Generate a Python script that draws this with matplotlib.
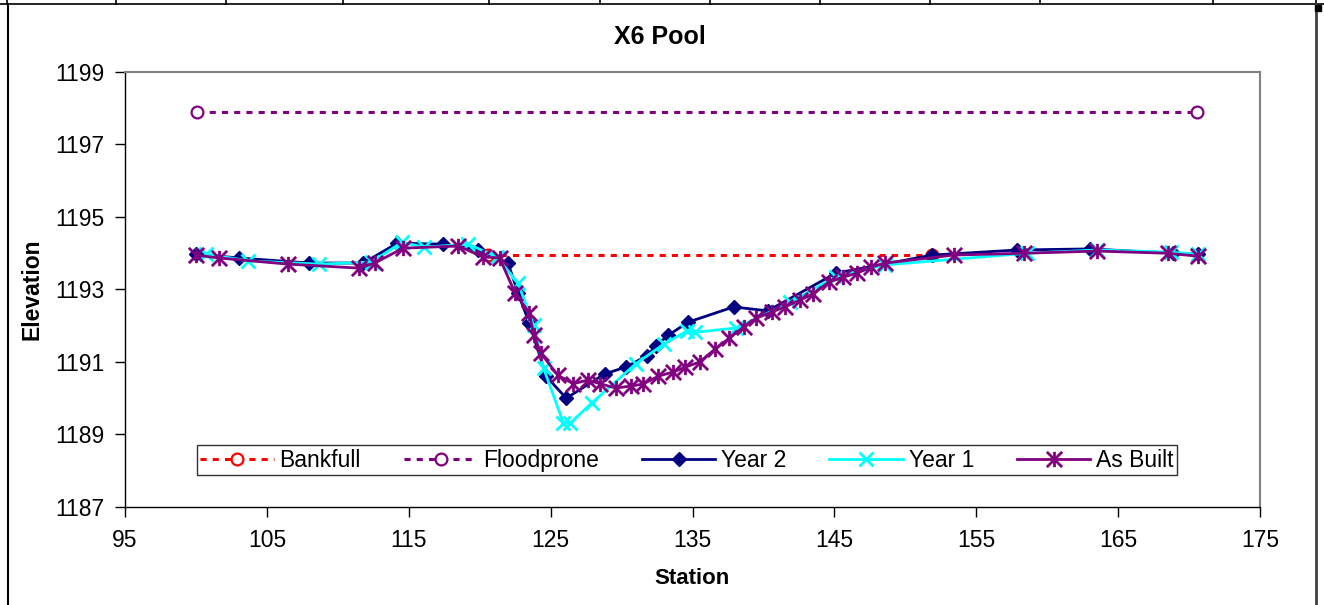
import matplotlib
matplotlib.use("Agg")
import matplotlib.pyplot as plt
from matplotlib.path import Path
from matplotlib.lines import Line2D

plt.rcParams['font.family'] = ['Liberation Sans', 'DejaVu Sans']

# ---- data ----
bankfull_x = [120.6, 151.9]
bankfull_y = [1193.95, 1193.95]

floodprone_x = [100.07, 170.55]
floodprone_y = [1197.9, 1197.9]

year2_x = [100.0, 103.0, 108.0, 111.8, 114.2, 117.4, 119.9, 122.0, 122.7, 123.5,
           124.7, 126.1, 128.8, 130.3, 131.8, 132.4, 133.3, 134.7, 137.9, 140.3,
           145.1, 151.9, 157.9, 163.0, 168.9, 170.6]
year2_y = [1193.98, 1193.87, 1193.73, 1193.73, 1194.28, 1194.25, 1194.1, 1193.73, 1192.9, 1192.07,
           1190.6, 1190.0, 1190.67, 1190.86, 1191.17, 1191.44, 1191.74, 1192.1, 1192.52, 1192.41,
           1193.45, 1193.95, 1194.09, 1194.12, 1194.0, 1193.98]

year1_x = [100.7, 103.7, 108.7, 112.4, 114.5, 116.1, 119.2, 121.2, 122.7, 123.8,
           124.5, 125.9, 126.4, 127.9, 131.0, 133.0, 134.6, 135.2, 138.1, 141.9,
           145.1, 148.6, 158.6, 163.5, 168.7, 170.6]
year1_y = [1193.98, 1193.79, 1193.7, 1193.76, 1194.3, 1194.17, 1194.25, 1193.9, 1193.18, 1192.02,
           1190.83, 1189.32, 1189.32, 1189.87, 1190.95, 1191.5, 1191.85, 1191.82, 1191.94, 1192.65,
           1193.35, 1193.68, 1194.0, 1194.09, 1194.03, 1193.98]

asbuilt_x = [100.0, 101.6, 106.5, 111.5, 112.6, 114.6, 118.5, 120.2, 121.4, 122.5,
             123.5, 123.8, 124.3, 125.5, 126.6, 127.6, 128.5, 129.6, 130.7, 131.5,
             132.6, 133.6, 134.5, 135.5, 136.6, 137.6, 138.6, 139.5, 140.6, 141.5,
             142.6, 143.5, 144.6, 145.6, 146.6, 147.6, 148.6, 153.4, 158.4, 163.5,
             168.5, 170.6]
asbuilt_y = [1193.95, 1193.87, 1193.7, 1193.59, 1193.73, 1194.14, 1194.2, 1193.9, 1193.87, 1192.9,
             1192.35, 1191.75, 1191.25, 1190.64, 1190.4, 1190.5, 1190.4, 1190.28, 1190.34, 1190.39,
             1190.61, 1190.72, 1190.86, 1191.0, 1191.36, 1191.66, 1191.97, 1192.21, 1192.38, 1192.52,
             1192.71, 1192.88, 1193.2, 1193.34, 1193.45, 1193.62, 1193.73, 1193.95, 1194.0, 1194.06,
             1194.0, 1193.92]

x_ticks = [95, 105, 115, 125, 135, 145, 155, 165, 175]
y_ticks = [1187, 1189, 1191, 1193, 1195, 1197, 1199]

# ---- figure ----
W, H = 1324, 605
fig = plt.figure(figsize=(W / 100, H / 100), dpi=100)

ax = fig.add_axes([125 / W, (H - 507) / H, (1260 - 125) / W, (507 - 72) / H])

# excel-like asterisk marker: x plus vertical line
ast = Path([(-0.5, -0.5), (0.5, 0.5), (-0.5, 0.5), (0.5, -0.5), (0, -0.5), (0, 0.5)],
           [Path.MOVETO, Path.LINETO, Path.MOVETO, Path.LINETO, Path.MOVETO, Path.LINETO])

red = '#FF0000'
purple = '#800080'
navy = '#000080'
cyan = '#00FFFF'

ax.plot(bankfull_x, bankfull_y, color=red, lw=2.2, dashes=(2, 2),
        marker='o', ms=8.5, mfc='white', mec=red, mew=1.6, label='Bankfull')
ax.plot(floodprone_x, floodprone_y, color=purple, lw=2.2, dashes=(2, 2),
        marker='o', ms=8.5, mfc='white', mec=purple, mew=1.6, label='Floodprone')
ax.plot(year2_x, year2_y, color=navy, lw=2, marker='D', ms=7,
        mfc=navy, mec=navy, label='Year 2')
ax.plot(year1_x, year1_y, color=cyan, lw=2, marker='x', ms=10, mew=2,
        mec=cyan, label='Year 1')
ax.plot(asbuilt_x, asbuilt_y, color=purple, lw=2, marker=ast, ms=11, mew=2,
        mec=purple, mfc='none', label='As Built')

ax.set_xlim(95, 175)
ax.set_ylim(1187, 1199)
ax.set_xticks(x_ticks)
ax.set_yticks(y_ticks)
ax.tick_params(axis='both', direction='out', length=7, width=1, labelsize=16.5,
               color='black')
ax.tick_params(axis='y', pad=8)
ax.tick_params(axis='x', pad=9)
for s in ['left', 'bottom']:
    ax.spines[s].set_color('black')
    ax.spines[s].set_linewidth(1)
for s in ['top', 'right']:
    ax.spines[s].set_color('#808080')
    ax.spines[s].set_linewidth(1.5)

leg = ax.legend(loc='lower left', bbox_to_anchor=(72 / 1135, 32 / 435, 980 / 1135, 32 / 435),
                mode='expand', ncol=5, fontsize=16.5, frameon=True, fancybox=False,
                edgecolor='black', handlelength=3.2, handletextpad=0.25,
                borderpad=0.15, borderaxespad=0, columnspacing=1.0)
leg.get_frame().set_linewidth(1)

fig.text(660 / W, 1 - 37 / H, 'X6 Pool', ha='center', va='center',
         fontsize=18, fontweight='bold')
fig.text(32 / W, 1 - 289 / H, 'Elevation', ha='center', va='center',
         rotation=90, fontsize=16.5, fontweight='bold')
fig.text(692 / W, 1 - 579 / H, 'Station', ha='center', va='center',
         fontsize=16, fontweight='bold')

# outer chart border and table lines at top
def fx(px):
    return px / W

def fy(py):
    return 1 - py / H

fig.add_artist(Line2D([fx(0), fx(W)], [fy(4), fy(4)], color='black', lw=1.2))
for px in [7, 116, 226, 343, 489, 600, 710, 820, 930, 1040, 1213, 1316]:
    fig.add_artist(Line2D([fx(px), fx(px)], [fy(0), fy(4)], color='black', lw=1.2))
fig.add_artist(Line2D([fx(8), fx(8)], [fy(4), fy(H)], color='black', lw=1.5))
fig.add_artist(Line2D([fx(1316), fx(1316)], [fy(4), fy(H)], color='#404040', lw=2))
fig.add_artist(Line2D([fx(1318)], [fy(8)], marker='s', ms=4, color='black'))

fig.savefig('out.png', dpi=100)
